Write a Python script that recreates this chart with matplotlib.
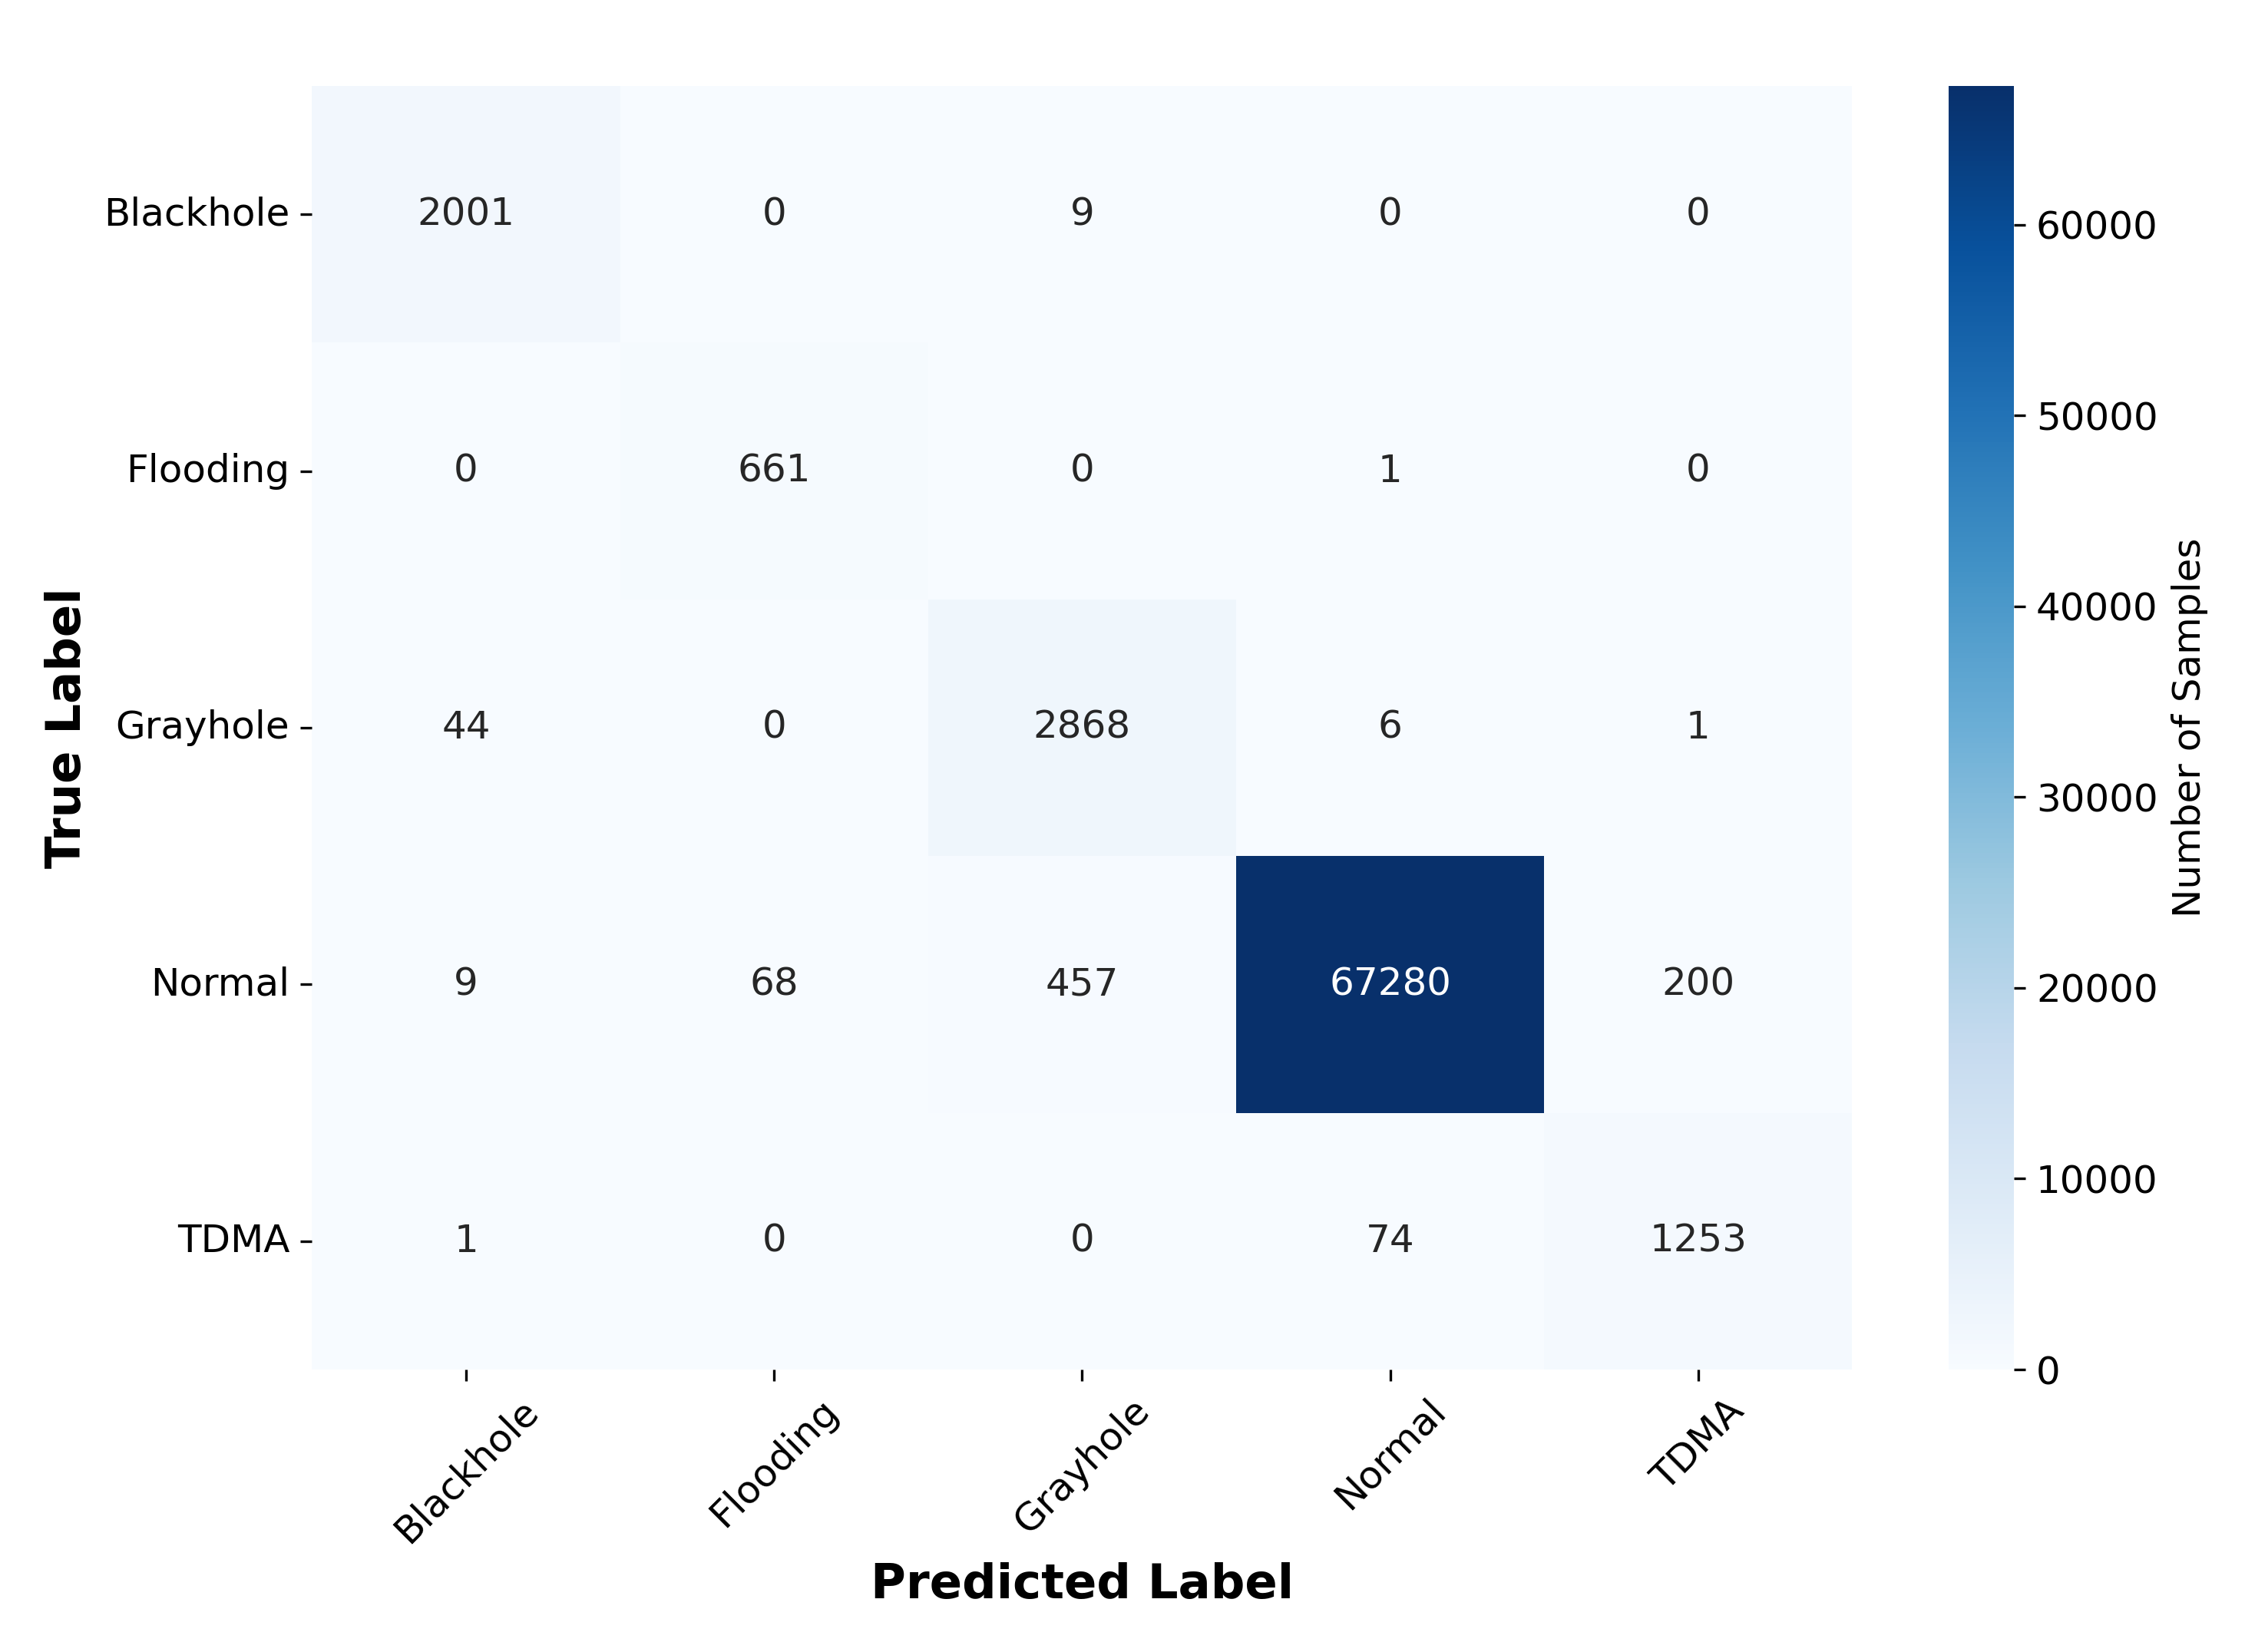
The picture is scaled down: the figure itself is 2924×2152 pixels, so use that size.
import numpy as np
import matplotlib
matplotlib.use("Agg")
import matplotlib.pyplot as plt
import seaborn as sns

classes = ["Blackhole", "Flooding", "Grayhole", "Normal", "TDMA"]
cm = np.array([
    [2001, 0, 9, 0, 0],
    [0, 661, 0, 1, 0],
    [44, 0, 2868, 6, 1],
    [9, 68, 457, 67280, 200],
    [1, 0, 0, 74, 1253],
])

fig = plt.figure(figsize=(2924 / 300, 2152 / 300), dpi=300)
ax = fig.add_axes([0.139, 0.171, 0.686, 0.777])
cax = fig.add_axes([0.868, 0.171, 0.029, 0.777])

sns.heatmap(cm, annot=True, fmt="d", cmap="Blues", ax=ax, cbar_ax=cax,
            xticklabels=classes, yticklabels=classes,
            annot_kws={"fontsize": 12},
            cbar_kws={"label": "Number of Samples"})

ax.set_xlabel("Predicted Label", fontsize=15, fontweight="bold")
ax.set_ylabel("True Label", fontsize=15, fontweight="bold")
ax.tick_params(axis="both", labelsize=12)
plt.setp(ax.get_xticklabels(), rotation=45, ha="center")
plt.setp(ax.get_yticklabels(), rotation=0)
cax.tick_params(labelsize=12)
cax.yaxis.label.set_size(12)

fig.savefig("out.png", dpi=300)
